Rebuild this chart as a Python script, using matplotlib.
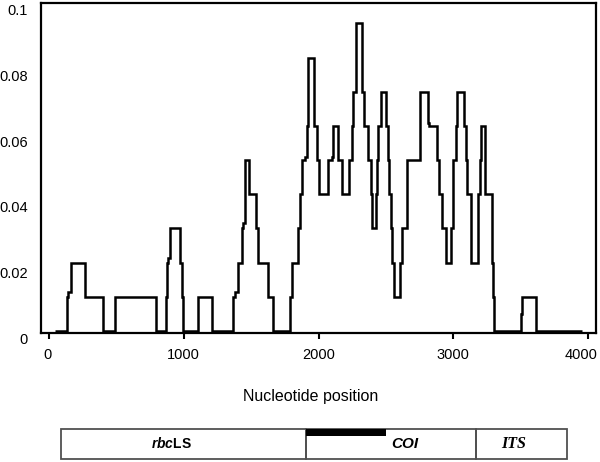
import matplotlib
matplotlib.use("Agg")
import matplotlib.pyplot as plt
from matplotlib.patches import Rectangle
from matplotlib.transforms import ScaledTranslation

# ---- data (step profile: start position of each step and its value) ----
positions = [45, 131, 143, 161, 267, 403, 490, 792, 866, 873, 885, 898, 972, 984, 996,
             1105, 1207, 1363, 1380, 1406, 1430, 1441, 1454, 1486, 1536, 1553, 1627, 1664,
             1788, 1800, 1849, 1862, 1875, 1899, 1912, 1919, 1966, 1990, 2005, 2072, 2097,
             2109, 2146, 2171, 2228, 2246, 2257, 2275, 2324, 2337, 2369, 2389, 2394, 2426,
             2435, 2443, 2461, 2500, 2513, 2524, 2535, 2547, 2562, 2604, 2621, 2659, 2752,
             2814, 2821, 2876, 2893, 2915, 2949, 2982, 2997, 3016, 3030, 3079, 3090, 3103,
             3128, 3134, 3185, 3197, 3205, 3232, 3284, 3296, 3303, 3499, 3509, 3613, 3952]
values = [0, 0.0104, 0.0120, 0.0208, 0.0104, 0, 0.0104, 0, 0.0104, 0.0208, 0.0224, 0.0313,
          0.0208, 0.0104, 0, 0.0104, 0, 0.0104, 0.0120, 0.0208, 0.0313, 0.0330, 0.0521,
          0.0417, 0.0313, 0.0208, 0.0104, 0, 0.0104, 0.0208, 0.0313, 0.0417, 0.0521, 0.0531,
          0.0625, 0.0833, 0.0625, 0.0521, 0.0417, 0.0521, 0.0531, 0.0625, 0.0521, 0.0417,
          0.0521, 0.0625, 0.0729, 0.0938, 0.0729, 0.0625, 0.0521, 0.0417, 0.0313, 0.0417,
          0.0521, 0.0625, 0.0729, 0.0625, 0.0521, 0.0417, 0.0313, 0.0208, 0.0104, 0.0208,
          0.0313, 0.0521, 0.0729, 0.0635, 0.0625, 0.0521, 0.0417, 0.0313, 0.0208, 0.0313,
          0.0521, 0.0625, 0.0729, 0.0625, 0.0521, 0.0417, 0.0313, 0.0208, 0.0417, 0.0521,
          0.0625, 0.0417, 0.0208, 0.0104, 0, 0.0052, 0.0104, 0, 0]

x_ticks = [0, 1000, 2000, 3000, 4000]
x_tick_labels = ["0", "1000", "2000", "3000", "4000"]
y_ticks = [0, 0.02, 0.04, 0.06, 0.08, 0.1]
y_tick_labels = ["0", "0.02", "0.04", "0.06", "0.08", "0.1"]
x_label = "Nucleotide position"

genes = [r"$\mathbf{rbc}$LS", "COI", "ITS"]
gene_starts = [87, 1906, 3168]
gene_ends = [1906, 3168, 3843]
gene_label_x = [905, 2640, 3450]
marker_region = [1906, 2500]

plt.rcParams['font.family'] = ['Liberation Sans', 'DejaVu Sans']
plt.rcParams['mathtext.fontset'] = 'custom'
plt.rcParams['mathtext.bf'] = 'Liberation Sans:bold:italic'

fig = plt.figure(figsize=(6, 4.62), dpi=100)
fig.patch.set_facecolor('white')
ax = fig.add_axes([41 / 600, 1 - 333 / 462, 555 / 600, 330 / 462])

ax.step(positions, values, where='post', color='black', lw=1.8,
        solid_joinstyle='miter', solid_capstyle='butt')

ax.set_xlim(-59, 4058)
ax.set_ylim(-0.0006, 0.0991)
ax.set_xticks(x_ticks)
ax.set_xticklabels(x_tick_labels)
ax.set_yticks(y_ticks)
ax.set_yticklabels(y_tick_labels)
ax.tick_params(axis='x', direction='out', length=4, width=1.5, pad=7, labelsize=10.5)
ax.tick_params(axis='y', length=0, pad=9.5, labelsize=10.5)
for sp in ax.spines.values():
    sp.set_linewidth(1.6)
offset = ScaledTranslation(0, -0.07, fig.dpi_scale_trans)
for lab in ax.get_yticklabels():
    lab.set_transform(lab.get_transform() + offset)
xlabs = ax.get_xticklabels()
xlabs[0].set_transform(xlabs[0].get_transform() + ScaledTranslation(-0.015, 0, fig.dpi_scale_trans))
xlabs[-1].set_transform(xlabs[-1].get_transform() + ScaledTranslation(-0.07, 0, fig.dpi_scale_trans))

fig.text(311 / 600, 1 - 397 / 462, x_label, ha='center', va='center', fontsize=11.5)

# ---- gene map ----
gax = fig.add_axes([41 / 600, 3 / 462, 555 / 600, 30 / 462], sharex=ax)
gax.set_ylim(0, 1)
gax.axis('off')
for s, e in zip(gene_starts, gene_ends):
    gax.add_patch(Rectangle((s, 0), e - s, 1, fill=False, edgecolor='#505050',
                            lw=1.3, clip_on=False))
gax.add_patch(Rectangle((marker_region[0], 1 - 7 / 30), marker_region[1] - marker_region[0],
                        7 / 30, facecolor='black', edgecolor='none', clip_on=False))

gax.text(gene_label_x[0], 0.5, genes[0], ha='center', va='center', fontsize=10,
         fontweight='bold')
gax.text(gene_label_x[1], 0.5, genes[1], ha='center', va='center', fontsize=11,
         fontweight='bold', fontstyle='italic')
gax.text(gene_label_x[2], 0.5, genes[2], ha='center', va='center', fontsize=11.5,
         fontweight='bold', fontstyle='italic', family=['Liberation Serif', 'DejaVu Serif'])

fig.savefig("out.png", dpi=100, facecolor='white')
